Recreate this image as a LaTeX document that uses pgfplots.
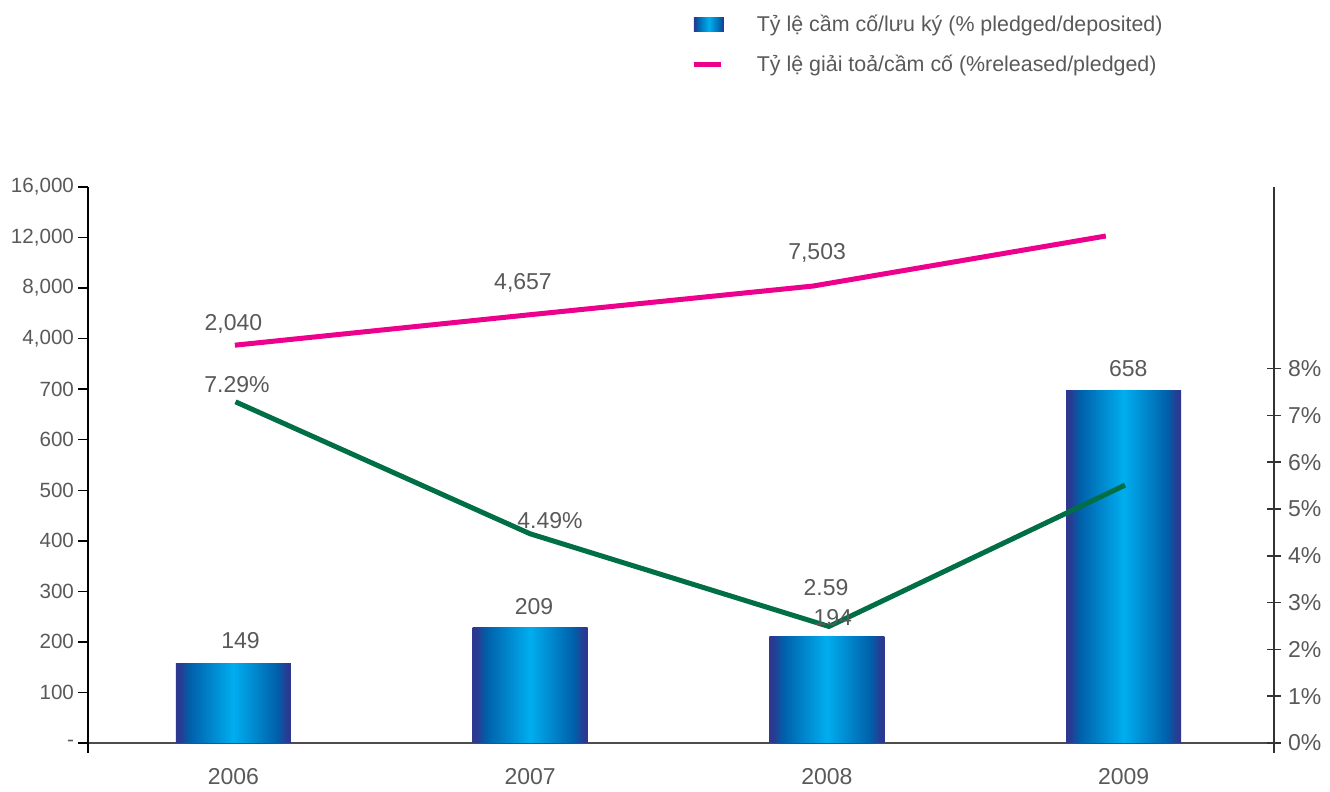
\documentclass[border=0pt]{standalone}
\usepackage{fontspec}
\setmainfont{Liberation Sans}
\usepackage{xcolor}
\usepackage{pgfplots}
\pgfplotsset{compat=1.18}

\definecolor{txt}{HTML}{595959}
\definecolor{navyb}{HTML}{2B3990}
\definecolor{midb}{HTML}{0060AA}
\definecolor{cyanb}{HTML}{00AEEF}
\definecolor{pinkl}{HTML}{EC008C}
\definecolor{greenl}{HTML}{006F45}

% tikz maps the path onto 25bp..75bp of the shading
\pgfdeclarehorizontalshading{barshade}{100bp}{color(0bp)=(navyb); color(26.5bp)=(navyb); color(31bp)=(midb); color(50bp)=(cyanb); color(69bp)=(midb); color(73.5bp)=(navyb); color(100bp)=(navyb)}

\newcommand{\lbl}{\fontsize{11.5}{13}\selectfont}

\begin{document}
\begin{tikzpicture}
% bars and the released/pledged line, left scale
\begin{axis}[
    scale only axis, width=593pt, height=278pt,
    xmin=-0.49, xmax=3.507, ymin=0, ymax=11,
    clip=false,
    axis y line*=left, axis x line*=bottom,
    x axis line style={black!70, line width=0.75pt},
    y axis line style={black, line width=0.75pt},
    xtick={0,1,2,3}, xticklabels={2006,2007,2008,2009},
    xtick style={draw=none},
    xticklabel style={font=\lbl, text=txt, yshift=-4pt},
    ytick={0,...,11},
    yticklabels={-,100,200,300,400,500,600,700,{4,000},{8,000},{12,000},{16,000}},
    ytick style={black, line width=0.75pt},
    tick align=outside, major tick length=5pt,
    yticklabel style={font=\fontsize{10.3}{12}\selectfont, text=txt, xshift=1.5pt},
    legend style={at={(0.5084,1.318)}, anchor=north west, draw=none, fill=none,
        inner sep=0pt, row sep=6.5pt, font=\fontsize{10.7}{13}\selectfont, text=txt,
        /tikz/every odd column/.append style={column sep=14.5pt}},
    legend cell align=left,
]
\addplot[ybar, bar width=57.5pt, bar shift=0pt, draw=none, shade, shading=barshade,
    legend image code/.code={\shade[shading=barshade] (0pt,-3.5pt) rectangle (15pt,3.5pt);}]
    coordinates {(0,1.58)};
\addlegendentry{Tỷ lệ cầm cố/lưu ký (\% pledged/deposited)}
\addplot[ybar, bar width=57.5pt, bar shift=0pt, draw=none, shade, shading=barshade, forget plot]
    coordinates {(1,2.28)};
\addplot[ybar, bar width=57.5pt, bar shift=0pt, draw=none, shade, shading=barshade, forget plot]
    coordinates {(2,2.10)};
\addplot[ybar, bar width=57.5pt, bar shift=0pt, draw=none, shade, shading=barshade, forget plot]
    coordinates {(3,6.98)};
\addplot[pinkl, line width=2.5pt,
    legend image code/.code={\draw[pinkl, line width=2.5pt] (0pt,0pt) -- (13.5pt,0pt);}]
    coordinates {(0.005,7.87) (0.995,8.47) (1.953,9.04) (2.94,10.03)};
\addlegendentry{Tỷ lệ giải toả/cầm cố (\%released/pledged)}
\draw[black, line width=0.75pt] (rel axis cs:0,0) -- ([yshift=-5pt]rel axis cs:0,0);
\coordinate (bl) at (rel axis cs:-0.0742,-0.0791);
\coordinate (tr) at (rel axis cs:1.0472,1.3363);
\end{axis}

% pledged/deposited ratio, right scale
\begin{axis}[
    scale only axis, width=593pt, height=278pt,
    xmin=-0.49, xmax=3.507, ymin=0, ymax=11.88,
    clip=false,
    axis y line*=right, axis x line=none,
    y axis line style={black!80, line width=0.75pt},
    ytick={0,...,8},
    yticklabels={0\%,1\%,2\%,3\%,4\%,5\%,6\%,7\%,8\%},
    ytick style={black!80, line width=0.75pt},
    tick align=center, major tick length=7pt,
    yticklabel style={font=\lbl, text=txt},
]
\addplot[greenl, line width=2.5pt]
    coordinates {(0.007,7.29) (1,4.47) (2.007,2.49) (3.005,5.51)};
\draw[black!80, line width=0.75pt] (rel axis cs:1,0) -- ([yshift=-5pt]rel axis cs:1,0);
\begin{scope}[every node/.style={font=\lbl, text=txt}]
\node at (axis cs:0.0,8.95) {2,040};
\node at (axis cs:0.976,9.83) {4,657};
\node at (axis cs:1.967,10.47) {7,503};
\node at (axis cs:0.024,2.18) {149};
\node at (axis cs:1.013,2.91) {209};
\node at (axis cs:2.02,2.69) {194};
\node at (axis cs:3.016,8.01) {658};
\node at (axis cs:0.012,7.65) {7.29\%};
\node at (axis cs:1.067,4.76) {4.49\%};
\node at (axis cs:1.997,3.31) {2.59};
\end{scope}
\end{axis}
\path (bl) rectangle (tr);
\end{tikzpicture}
\end{document}
